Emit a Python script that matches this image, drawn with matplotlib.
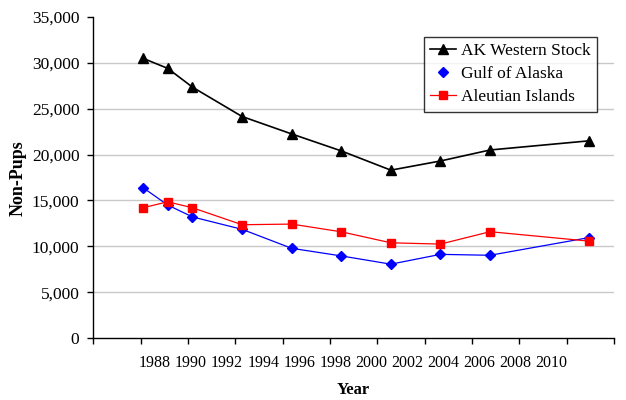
import numpy as np
import matplotlib
matplotlib.use("Agg")
import matplotlib.pyplot as plt
from matplotlib.lines import Line2D

# ---- data ----
survey_x = [1989, 1990, 1991, 1993, 1995, 1997, 1999, 2001, 2003, 2007]
ak_western = [30500, 29400, 27350, 24150, 22250, 20400, 18300, 19300, 20500, 21500]
gulf_alaska = [16400, 14500, 13200, 11850, 9780, 8950, 8050, 9120, 9020, 10950]
aleutian = [14200, 14850, 14200, 12350, 12420, 11580, 10380, 10240, 11590, 10560]
year_labels = ["1988", "1990", "1992", "1994", "1996", "1998", "2000",
               "2002", "2004", "2006", "2008", "2010"]
y_ticks = [0, 5000, 10000, 15000, 20000, 25000, 30000, 35000]

plt.rcParams['font.family'] = ['Liberation Serif', 'DejaVu Serif']

fig = plt.figure(figsize=(6.26, 4.0), dpi=100)
ax = fig.add_axes([93.3 / 626, 1 - 338 / 400, (614 - 93.3) / 626, (338 - 17) / 400])

x_min, x_max = 1987, 2008
ax.set_xlim(x_min, x_max)
ax.set_ylim(0, 35000)

# gridlines
for v in y_ticks[1:-1]:
    ax.axhline(v, color='#c8c8c8', lw=1.0, zorder=0)

ax.plot(survey_x, ak_western, color='black', lw=1.2, marker='^', ms=7,
        label='AK Western Stock', zorder=4)
ax.plot(survey_x, gulf_alaska, color='#0000ff', lw=0.9, marker='D', ms=5,
        label='Gulf of Alaska', zorder=3)
ax.plot(survey_x, aleutian, color='#ff0000', lw=0.9, marker='s', ms=6,
        label='Aleutian Islands', zorder=3)

# spines
for s in ['top', 'right']:
    ax.spines[s].set_visible(False)
for s in ['left', 'bottom']:
    ax.spines[s].set_linewidth(1.0)

ax.set_yticks(y_ticks)
ax.set_yticklabels([f"{v:,}" for v in y_ticks], fontsize=12.5)
ax.tick_params(axis='y', direction='out', length=4, width=1, pad=6)

ax.set_xticks(np.linspace(x_min, x_max, 12))
ax.set_xticklabels([])
ax.tick_params(axis='x', direction='out', length=4, width=1)

# year labels (offset like the reference)
label_pos = np.linspace(0.1185, 0.880, len(year_labels))
for p, t in zip(label_pos, year_labels):
    ax.annotate(t, xy=(p, 0), xycoords='axes fraction', xytext=(0, -18),
                textcoords='offset points', ha='center', va='center', fontsize=11.5)

fig.text(0.5 * (93.3 + 614) / 626, 1 - 390 / 400, 'Year', ha='center', va='center',
         fontsize=12, fontweight='bold')
fig.text(18 / 626, 1 - 178 / 400, 'Non-Pups', rotation=90, ha='center', va='center',
         fontsize=13, fontweight='bold')

handles = [
    Line2D([], [], color='black', lw=1.2, marker='^', ms=7),
    Line2D([], [], color='#0000ff', lw=0, marker='D', ms=5),
    Line2D([], [], color='#ff0000', lw=0.9, marker='s', ms=6),
]
leg = ax.legend(handles, ['AK Western Stock', 'Gulf of Alaska', 'Aleutian Islands'],
                loc='upper left', bbox_to_anchor=((424 - 93.3) / 520.7, 1 - (37 - 17) / 321),
                fontsize=12.5, frameon=True, fancybox=False, edgecolor='black',
                borderpad=0.35, labelspacing=0.4, handlelength=1.5, handletextpad=0.3,
                borderaxespad=0)
leg.get_frame().set_linewidth(1.0)

fig.savefig('out.png', dpi=100)
